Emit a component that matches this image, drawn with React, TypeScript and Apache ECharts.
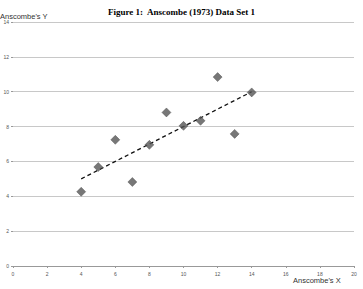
import React, { useEffect, useRef } from "react";
import * as echarts from "echarts";

const xValues = [10, 8, 13, 9, 11, 14, 6, 4, 12, 7, 5];
const yValues = [8.04, 6.95, 7.58, 8.81, 8.33, 9.96, 7.24, 4.26, 10.84, 4.82, 5.68];
// Least-squares fit for set 1: y = 3.00 + 0.500 x, drawn over the data range
const fitX = [4, 14];
const fitY = [5.0, 10.0];

export default function App() {
  const ref = useRef<HTMLDivElement>(null);

  useEffect(() => {
    if (!ref.current) return;
    const chart = echarts.init(ref.current, undefined, { renderer: "svg" });
    const points = xValues.map((x, i) => [x, yValues[i]]);
    const fit = fitX.map((x, i) => [x, fitY[i]]);
    chart.setOption({
      animation: false,
      title: {
        text: "Figure 1:  Anscombe (1973) Data Set 1",
        left: "center",
        top: 2,
        textStyle: {
          fontFamily: "Liberation Serif",
          fontWeight: "bold",
          fontSize: 9,
          color: "#000",
        },
      },
      graphic: [
        {
          type: "text",
          left: 0,
          top: 12,
          style: {
            text: "Anscombe's Y",
            fontFamily: "Liberation Sans",
            fontSize: 7.5,
            fill: "#333",
          },
        },
        {
          type: "text",
          left: 293,
          top: 276,
          style: {
            text: "Anscombe's X",
            fontFamily: "Liberation Sans",
            fontSize: 7.5,
            fill: "#333",
          },
        },
      ],
      grid: { left: 13, right: 9, top: 22, bottom: 23 },
      xAxis: {
        type: "value",
        min: 0,
        max: 20,
        interval: 2,
        axisLine: { show: true, lineStyle: { color: "#999", width: 1 } },
        axisTick: { show: true, length: 2, lineStyle: { color: "#999" } },
        axisLabel: { fontSize: 5, color: "#555", margin: 5, fontFamily: "Liberation Sans" },
        splitLine: { show: false },
      },
      yAxis: {
        type: "value",
        min: 0,
        max: 14,
        interval: 2,
        axisLine: { show: false },
        axisTick: { show: true, length: 2, lineStyle: { color: "#999" } },
        axisLabel: { fontSize: 5, color: "#555", margin: 4, fontFamily: "Liberation Sans" },
        splitLine: { show: true, lineStyle: { color: "#c8c8c8", width: 1 } },
      },
      series: [
        {
          type: "line",
          data: fit,
          symbol: "none",
          lineStyle: { color: "#111", width: 1.3, type: [4, 3] },
          z: 3,
        },
        {
          type: "scatter",
          data: points,
          symbol: "diamond",
          symbolSize: 9,
          itemStyle: { color: "#555", borderColor: "#444", borderWidth: 0.5 },
          z: 4,
        },
      ],
    });
    return () => chart.dispose();
  }, []);

  return <div ref={ref} style={{ width: 363, height: 289, position: "absolute", left: 0, top: 0 }} />;
}
